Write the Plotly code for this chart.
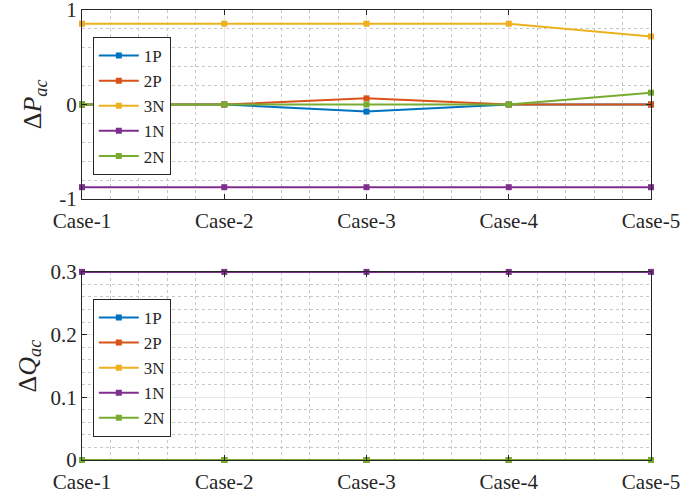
import plotly.graph_objects as go

cases = ["Case-1", "Case-2", "Case-3", "Case-4", "Case-5"]
series_names = ["1P", "2P", "3N", "1N", "2N"]
colors = ["#0072BD", "#D95319", "#EDB120", "#7E2F8E", "#77AC30"]

dP_1P = [0.0, 0.0, -0.075, 0.0, 0.0]
dP_2P = [0.0, 0.0, 0.065, 0.0, 0.0]
dP_3N = [0.855, 0.855, 0.855, 0.855, 0.72]
dP_1N = [-0.875, -0.875, -0.875, -0.875, -0.875]
dP_2N = [0.0, 0.0, 0.0, 0.0, 0.125]

dQ_1P = [0.0, 0.0, 0.0, 0.0, 0.0]
dQ_2P = [0.0, 0.0, 0.0, 0.0, 0.0]
dQ_3N = [0.0, 0.0, 0.0, 0.0, 0.0]
dQ_1N = [0.3, 0.3, 0.3, 0.3, 0.3]
dQ_2N = [0.0, 0.0, 0.0, 0.0, 0.0]

P_series = [dP_1P, dP_2P, dP_3N, dP_1N, dP_2N]
Q_series = [dQ_1P, dQ_2P, dQ_3N, dQ_1N, dQ_2N]

xpos = list(range(len(cases)))
FONT = "Liberation Serif"
TXT = "#262626"

fig = go.Figure()
for name, col, ys in zip(series_names, colors, P_series):
    fig.add_trace(go.Scatter(x=xpos, y=ys, name=name, mode="lines+markers",
                             line=dict(color=col, width=2),
                             marker=dict(symbol="square", size=6, color=col),
                             cliponaxis=False, xaxis="x", yaxis="y", legend="legend"))
for name, col, ys in zip(series_names, colors, Q_series):
    fig.add_trace(go.Scatter(x=xpos, y=ys, name=name, mode="lines+markers",
                             line=dict(color=col, width=2),
                             marker=dict(symbol="square", size=6, color=col),
                             cliponaxis=False, xaxis="x2", yaxis="y2", legend="legend2"))

axis_common = dict(showline=True, linecolor=TXT, linewidth=1, mirror="ticks",
                   ticks="inside", ticklen=5, tickcolor=TXT, automargin=False,
                   ticklabeloverflow="allow",
                   showgrid=True, gridcolor="#e6e6e6", gridwidth=1,
                   zeroline=False, tickfont=dict(family=FONT, size=21, color=TXT))

xaxis_common = dict(axis_common, range=[0, 4], tickvals=xpos, ticktext=cases,
                    ticklabelstandoff=3,
                    minor=dict(dtick=0.2, tick0=0, showgrid=True, gridcolor="#c8c8c8",
                               griddash="dot", gridwidth=1, ticks=""))

legend_common = dict(xanchor="left", yanchor="top", bordercolor=TXT, borderwidth=1,
                     bgcolor="white", itemwidth=40,
                     font=dict(family=FONT, size=17, color=TXT))

fig.update_layout(
    width=688, height=499,
    margin=dict(l=82, r=37, t=10, b=39),
    paper_bgcolor="white", plot_bgcolor="white",
    xaxis=dict(xaxis_common, domain=[0, 1], anchor="y"),
    yaxis=dict(axis_common, domain=[0.58, 1.0], anchor="x", range=[-1, 1],
               tickvals=[-1, 0, 1], ticktext=["-1", "0", "1"],
               minor=dict(dtick=0.2, tick0=0, showgrid=True, gridcolor="#c8c8c8",
                          griddash="dot", gridwidth=1, ticks="")),
    xaxis2=dict(xaxis_common, domain=[0, 1], anchor="y2"),
    yaxis2=dict(axis_common, domain=[0.0, 0.418], anchor="x2", range=[0, 0.3],
                tickvals=[0, 0.1, 0.2, 0.3], ticktext=["0", "0.1", "0.2", "0.3"],
                minor=dict(dtick=0.02, tick0=0, showgrid=True, gridcolor="#c8c8c8",
                           griddash="dot", gridwidth=1, ticks="")),
    legend=dict(legend_common, x=0.019, y=0.94),
    legend2=dict(legend_common, x=0.019, y=0.358),
    annotations=[
        dict(text="Δ<i>P</i><sub><i>ac</i></sub>", xref="paper", yref="paper",
             x=-0.083, y=0.79, xanchor="center", yanchor="middle", textangle=-90,
             showarrow=False, font=dict(family=FONT, size=26, color=TXT)),
        dict(text="Δ<i>Q</i><sub><i>ac</i></sub>", xref="paper", yref="paper",
             x=-0.094, y=0.209, xanchor="center", yanchor="middle", textangle=-90,
             showarrow=False, font=dict(family=FONT, size=26, color=TXT)),
    ],
)

fig.write_html("out.html", config={"displayModeBar": False},
               post_script="document.body.style.margin='0';")
